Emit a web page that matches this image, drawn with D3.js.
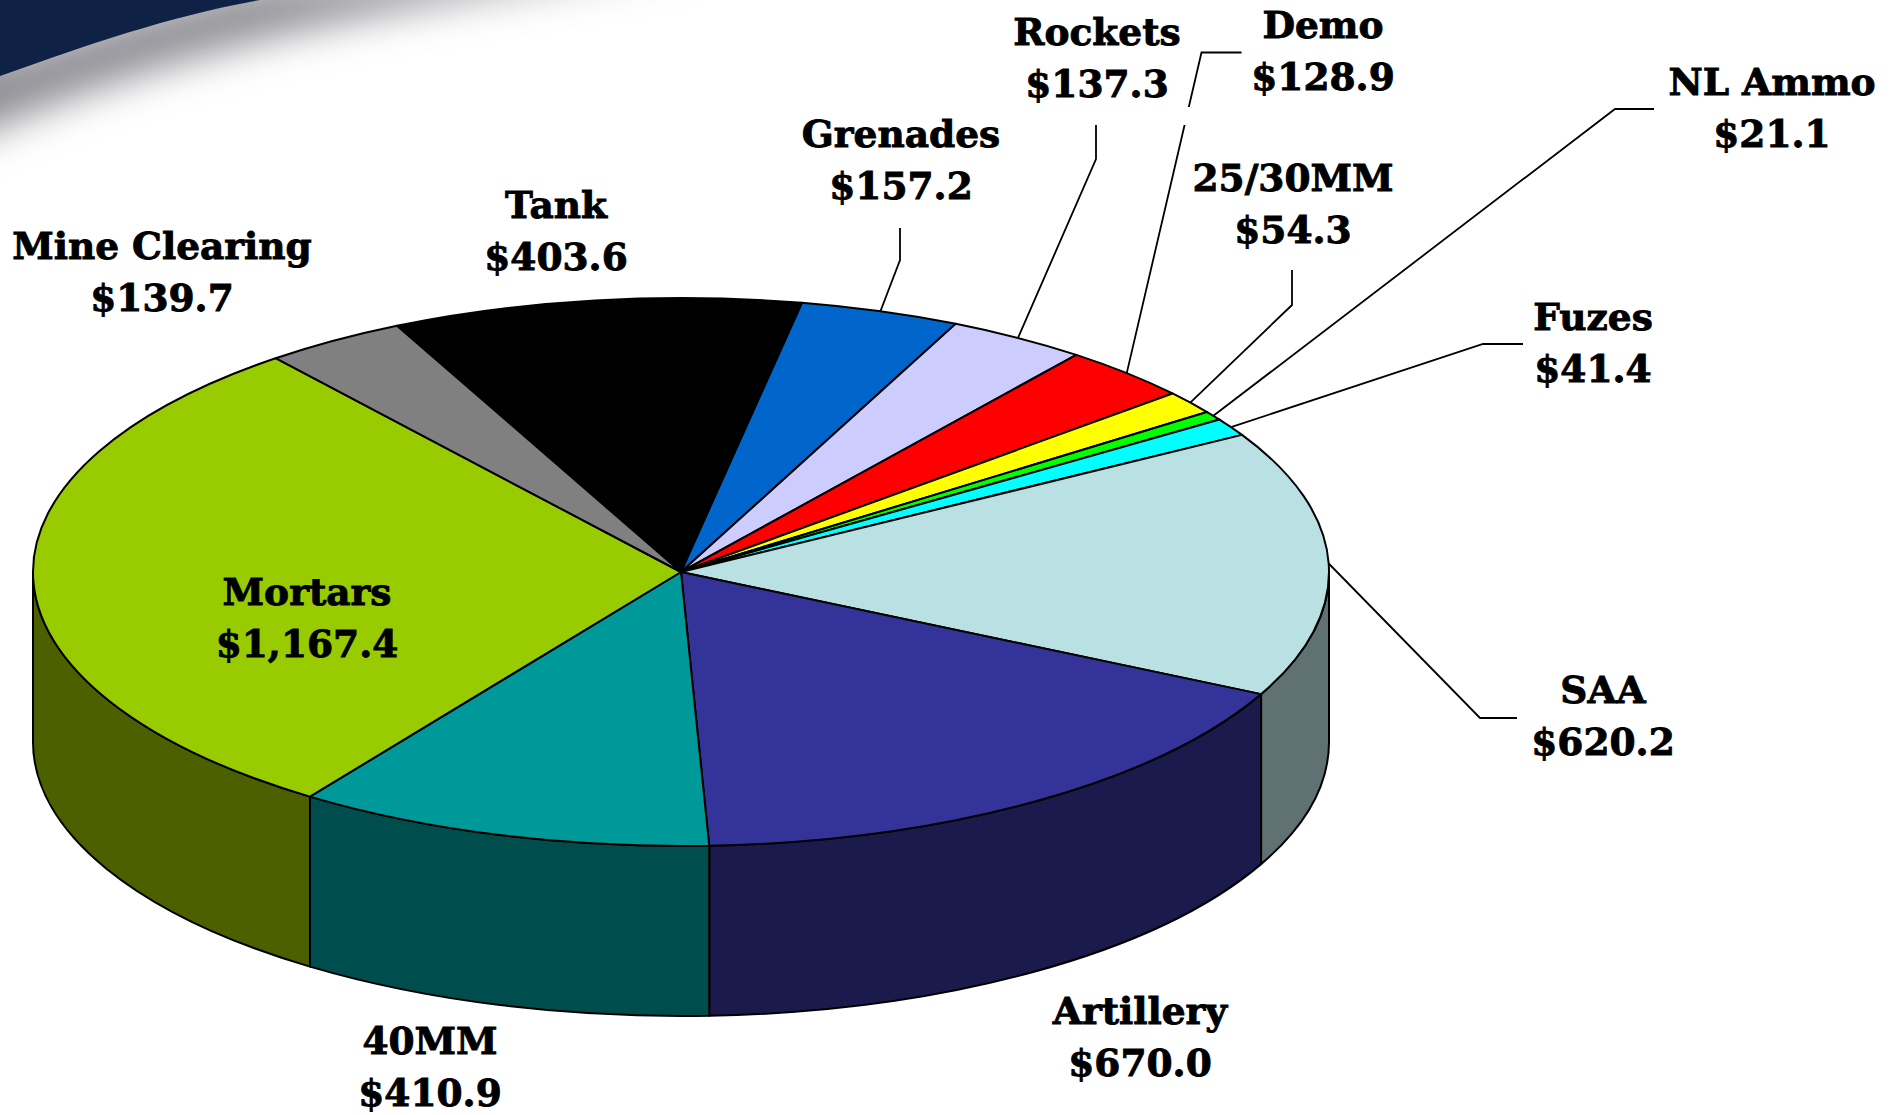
<!DOCTYPE html>
<html>
<head>
<meta charset="utf-8">
<script src="https://cdn.jsdelivr.net/npm/d3@7/dist/d3.min.js"></script>
<style>
  html, body { margin: 0; padding: 0; background: #fff; }
  svg { display: block; }
  text { font-family: "DejaVu Serif", serif; font-weight: 700; fill: #000; stroke: #000; stroke-width: 0.9px; text-anchor: middle; }
</style>
</head>
<body>
<svg id="chart" width="1900" height="1115"></svg>
<script>
// Ammunition funding by family, in clockwise order from the Tank slice
const categories = ["Tank", "Grenades", "Rockets", "Demo", "25/30MM", "NL Ammo", "Fuzes",
                    "SAA", "Artillery", "40MM", "Mortars", "Mine Clearing"];
const amounts = [403.6, 157.2, 137.3, 128.9, 54.3, 21.1, 41.4, 620.2, 670.0, 410.9, 1167.4, 139.7];
const valueLabels = ["$403.6", "$157.2", "$137.3", "$128.9", "$54.3", "$21.1", "$41.4",
                     "$620.2", "$670.0", "$410.9", "$1,167.4", "$139.7"];
const topColors = ["#000000", "#0066cc", "#ccccff", "#ff0000", "#ffff00", "#00ff00", "#00ffff",
                   "#b9e1e4", "#333399", "#009999", "#99cc00", "#808080"];
const sideColors = ["#000000", "#003366", "#666680", "#800000", "#808000", "#008000", "#008080",
                    "#5f7173", "#1a1a4d", "#004d4d", "#4d6000", "#404040"];

// Text anchors: centre x and first baseline of each two-line label
const labelX = [556, 901, 1097, 1323, 1293, 1772, 1593, 1603, 1140, 430, 307, 162];
const labelY = [218, 147, 45, 38, 191, 95, 330, 703, 1024, 1054, 605, 259];
// Leader elbows running from the rim outward; empty for labels without one
const leaderBends = [
  [], [[900, 260], [900, 228]], [[1096, 159], [1096, 125]], [[1201.5, 52.5], [1241.5, 52.5]],
  [[1292, 305], [1292, 270]], [[1615, 109], [1654, 109]], [[1483, 344], [1523, 344]],
  [[1480, 718], [1517, 718]], [], [], [], []
];

const cx = 681, cy = 572, rx = 648, ry = 274, depth = 170;
const lineHeight = 52;
const startDeg = -26;

const svg = d3.select("#chart");
const defs = svg.append("defs");
defs.append("filter").attr("id", "soft").attr("x", "-30%").attr("y", "-60%")
    .attr("width", "160%").attr("height", "220%")
  .append("feGaussianBlur").attr("stdDeviation", 20);

// Corner swoosh: a dark navy sweep casting a soft grey shadow
const corner = svg.append("g");
corner.append("path")
  .attr("d", "M-80,60 L0,60 C90,30 170,5 260,-15 L700,-40 C520,-10 260,15 0,125 L-80,160 Z")
  .attr("fill", "#8b8b92").attr("filter", "url(#soft)");
corner.append("path")
  .attr("d", "M0,0 L0,76 C90,44 170,16 260,0 Z")
  .attr("fill", "#0f2145");

const pie = d3.pie().sort(null)
  .startAngle(startDeg * Math.PI / 180)
  .endAngle((startDeg + 360) * Math.PI / 180);
const slices = pie(amounts);

// Point on the tilted rim for a clockwise-from-north angle
const rimX = a => cx + rx * Math.sin(a);
const rimY = a => cy - ry * Math.cos(a);

// Visible wall: the part of each slice on the front half of the disc
const frontStart = Math.PI / 2, frontEnd = 3 * Math.PI / 2;
const walls = slices.map((s, i) => {
  const a0 = Math.max(s.startAngle, frontStart), a1 = Math.min(s.endAngle, frontEnd);
  return a1 > a0 ? { a0, a1, i } : null;
}).filter(Boolean);

svg.append("g").selectAll("path").data(walls).join("path")
  .attr("d", d => {
    const p0 = [rimX(d.a0), rimY(d.a0)], p1 = [rimX(d.a1), rimY(d.a1)];
    return `M${p0[0]},${p0[1]} A${rx},${ry} 0 0 1 ${p1[0]},${p1[1]}` +
           `L${p1[0]},${p1[1] + depth} A${rx},${ry} 0 0 0 ${p0[0]},${p0[1] + depth} Z`;
  })
  .attr("fill", d => sideColors[d.i])
  .attr("stroke", "#000").attr("stroke-width", 2).attr("stroke-linejoin", "round");

// Disc top: a circular pie flattened into an ellipse
const arc = d3.arc().innerRadius(0).outerRadius(rx);
svg.append("g")
  .attr("transform", `translate(${cx},${cy}) scale(1,${ry / rx})`)
  .selectAll("path").data(slices).join("path")
  .attr("d", arc)
  .attr("fill", (d, i) => topColors[i])
  .attr("stroke", "#000").attr("stroke-width", 2)
  .attr("stroke-linejoin", "round")
  .attr("vector-effect", "non-scaling-stroke");

// Leader lines start at each slice's mid-angle on the rim
const leaderLine = d3.line();
svg.append("g").selectAll("path")
  .data(slices.map((s, i) => ({ s, bends: leaderBends[i] })).filter(d => d.bends.length))
  .join("path")
  .attr("d", d => {
    const mid = (d.s.startAngle + d.s.endAngle) / 2;
    return leaderLine([[rimX(mid), rimY(mid)], ...d.bends]);
  })
  .attr("fill", "none").attr("stroke", "#000").attr("stroke-width", 1.8);

// Break in the Demo leader where it passes between neighbouring labels
svg.append("rect").attr("x", 1180).attr("y", 107).attr("width", 22).attr("height", 18).attr("fill", "#fff");

const labels = svg.append("g").attr("font-size", 37.5).selectAll("text")
  .data(categories).join("text")
  .attr("transform", (d, i) => `translate(${labelX[i]},${labelY[i]})`);
labels.append("tspan").attr("x", 0).attr("y", 0).text(d => d);
labels.append("tspan").attr("x", 0).attr("y", lineHeight).text((d, i) => valueLabels[i]);
</script>
</body>
</html>
